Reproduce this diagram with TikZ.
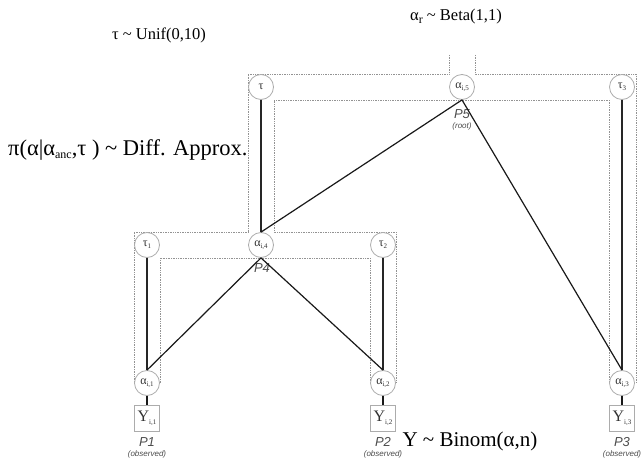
\documentclass[tikz,border=0pt]{standalone}
\usepackage{fontspec}
\setmainfont{Liberation Serif}
\setsansfont{Liberation Sans}
\newcommand\lowsub[1]{\raisebox{-0.45ex}{\fontsize{7}{7}\selectfont #1}}
\newcommand\annsub[1]{\raisebox{-0.3ex}{\fontsize{12}{12}\selectfont #1}}
\begin{document}
\begin{tikzpicture}[x=1pt,y=-1pt,
  circ/.style={circle, draw=gray!65, fill=white, minimum size=25pt, inner sep=0pt, line width=0.8pt, font=\fontsize{12}{12}\selectfont, text=black!80},
  obs/.style={rectangle, draw=gray!65, fill=white, minimum width=25pt, minimum height=26pt, inner sep=0pt, line width=0.8pt, font=\fontsize{16}{16}\selectfont, text=black!80},
  plate/.style={draw=gray!85, line width=0.7pt, densely dotted},
  strong/.style={line width=1.8pt, black!85},
  link/.style={line width=1.2pt, black!90},
  plab/.style={font=\sffamily\itshape\fontsize{13}{13}\selectfont, text=black!70, inner sep=0pt},
  sublab/.style={font=\sffamily\itshape\fontsize{8}{8}\selectfont, text=black!70, inner sep=0pt},
  ann/.style={font=\fontsize{16.5}{18}\selectfont, text=black, inner sep=0pt}]
\useasboundingbox (0,0) rectangle (644,465);
\fill[white] (0,0) rectangle (644,465);

% plates
\draw[plate] (449,55) -- (449,74) -- (248,74) -- (248,232) -- (134,232) -- (134,383);
\draw[plate] (475,55) -- (475,74) -- (636,74) -- (636,383);
\draw[plate] (609,383) -- (609,100) -- (274,100) -- (274,232) -- (396,232) -- (396,383);
\draw[plate] (160,383) -- (160,258) -- (370,258) -- (370,383);

% nodes
\node[circ] (tau) at (261,87) {τ};
\node[circ] (a5) at (462,87) {α\lowsub{i,5}};
\node[circ] (tau3) at (622,87) {τ\lowsub{3}};
\node[circ] (tau1) at (147,245) {τ\lowsub{1}};
\node[circ] (a4) at (261,245) {α\lowsub{i,4}};
\node[circ] (tau2) at (383,245) {τ\lowsub{2}};
\node[circ] (a1) at (147,383) {α\lowsub{i,1}};
\node[circ] (a2) at (383,383) {α\lowsub{i,2}};
\node[circ] (a3) at (622,383) {α\lowsub{i,3}};
\node[obs] (y1) at (147,418) {Y\lowsub{i,1}};
\node[obs] (y2) at (383,418) {Y\lowsub{i,2}};
\node[obs] (y3) at (622,418) {Y\lowsub{i,3}};

% labels
\node[plab] (p5) at (462,114) {P5};
\node[sublab] (p5s) at (462,126) {(root)};
\node[plab] (p4) at (262,268) {P4};
\node[plab] (p1) at (147,442) {P1};
\node[sublab] (p1s) at (147,454) {(observed)};
\node[plab] (p2) at (383,442) {P2};
\node[sublab] (p2s) at (383,454) {(observed)};
\node[plab] (p3) at (622,442) {P3};
\node[sublab] (p3s) at (622,454) {(observed)};

% edges
\draw[strong] (tau.south) -- (a4.north);
\draw[strong] (tau1.south) -- (a1.north);
\draw[strong] (tau2.south) -- (a2.north);
\draw[strong] (tau3.south) -- (a3.north);
\draw[link] (a5.south) -- (a4.north);
\draw[link] (a5.south) -- (a3.north);
\draw[link] (a4.south) -- (a1.north);
\draw[link] (a4.south) -- (a2.north);
\draw[link] (a1.south) -- (y1.north);
\draw[link] (a2.south) -- (y2.north);
\draw[link] (a3.south) -- (y3.north);

% annotations
\node[ann] (t1) at (159,35) {τ \textasciitilde\ Unif(0,10)};
\node[ann] (t2) at (456,17) {α\annsub{r} \textasciitilde\ Beta(1,1)};
\node[ann, anchor=west, font=\fontsize{22.5}{24}\selectfont] (t3) at (8,150) {π(α|α\annsub{anc},τ ) \textasciitilde\ Diff. Approx.};
\node[ann, font=\fontsize{21}{23}\selectfont] (t4) at (470,441) {Y \textasciitilde\ Binom(α,n)};
\end{tikzpicture}
\end{document}
